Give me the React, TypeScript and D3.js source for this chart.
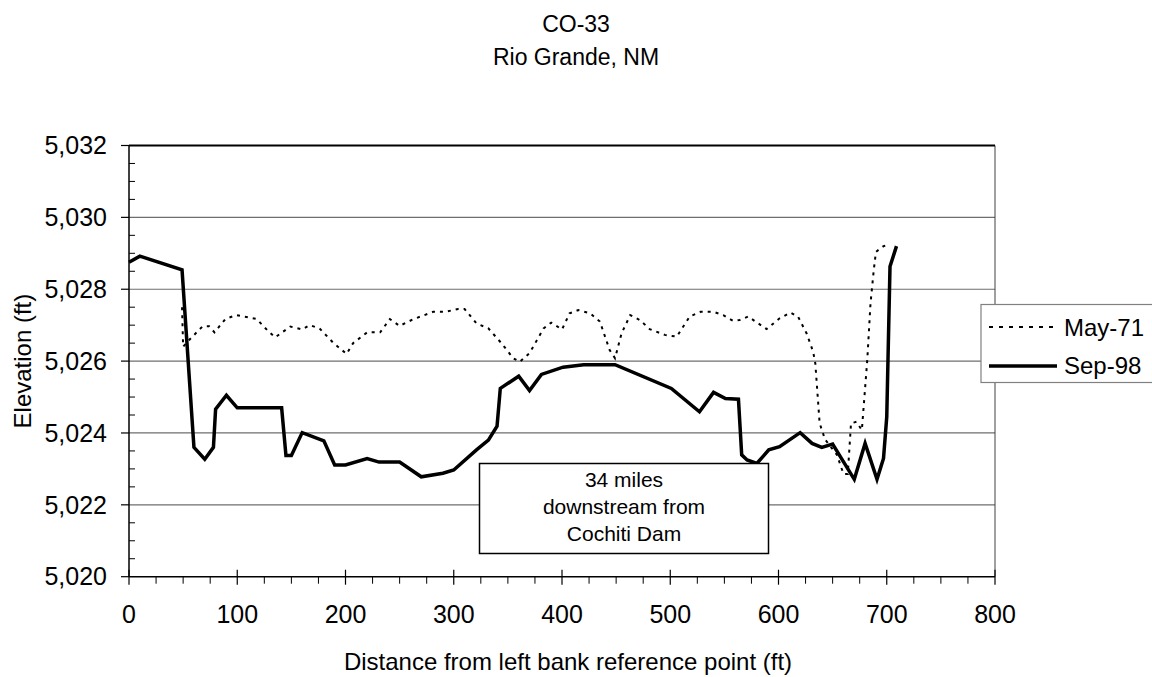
import React from "react";
import * as d3 from "d3";

const titleLines = ["CO-33", "Rio Grande, NM"];
const xTicks = [0, 100, 200, 300, 400, 500, 600, 700, 800];
const yTicks = [5020, 5022, 5024, 5026, 5028, 5030, 5032];
const xLabel = "Distance from left bank reference point (ft)";
const yLabel = "Elevation (ft)";
const noteLines = ["34 miles", "downstream from", "Cochiti Dam"];

const may71X = [49, 50, 56, 68, 74, 79, 89, 99, 118, 129, 135, 149, 160, 167, 176, 189, 201, 207, 220, 232, 241, 250, 263, 281, 292, 304, 310, 321, 332, 344, 355, 361, 370, 383, 390, 400, 407, 415, 426, 435, 444, 449, 455, 463, 472, 481, 495, 506, 518, 528, 540, 549, 558, 564, 572, 589, 601, 611, 618, 626, 632, 634, 638, 643, 654, 660, 664, 667, 672, 677, 682, 685, 688, 690, 697, 701];
const may71Y = [5027.5, 5026.4, 5026.6, 5026.97, 5026.97, 5026.8, 5027.17, 5027.28, 5027.17, 5026.82, 5026.66, 5026.96, 5026.88, 5027.0, 5026.91, 5026.5, 5026.2, 5026.5, 5026.8, 5026.8, 5027.17, 5026.98, 5027.17, 5027.37, 5027.37, 5027.45, 5027.45, 5027.05, 5026.91, 5026.5, 5026.08, 5025.98, 5026.22, 5026.91, 5027.07, 5026.88, 5027.33, 5027.42, 5027.33, 5027.1, 5026.31, 5026.08, 5026.77, 5027.28, 5027.14, 5026.89, 5026.73, 5026.68, 5027.24, 5027.37, 5027.37, 5027.28, 5027.12, 5027.14, 5027.24, 5026.89, 5027.19, 5027.35, 5027.24, 5026.77, 5026.26, 5025.94, 5024.27, 5023.82, 5023.39, 5022.86, 5022.86, 5024.27, 5024.31, 5024.08, 5026.03, 5027.61, 5028.53, 5029.04, 5029.2, 5029.23];

const sep98X = [0, 10, 49, 60, 70, 78, 80, 90, 100, 141, 145, 150, 160, 180, 190, 200, 220, 231, 250, 270, 290, 300, 321, 332, 340, 343, 360, 370, 381, 401, 420, 449, 501, 527, 540, 551, 563, 566, 571, 580, 591, 601, 620, 631, 640, 650, 670, 680, 691, 697, 700, 703, 709];
const sep98Y = [5028.75, 5028.92, 5028.54, 5023.6, 5023.27, 5023.6, 5024.66, 5025.05, 5024.7, 5024.7, 5023.37, 5023.37, 5024.01, 5023.78, 5023.11, 5023.11, 5023.29, 5023.19, 5023.19, 5022.78, 5022.88, 5022.97, 5023.53, 5023.8, 5024.19, 5025.24, 5025.58, 5025.18, 5025.63, 5025.83, 5025.9, 5025.9, 5025.24, 5024.59, 5025.13, 5024.96, 5024.94, 5023.39, 5023.25, 5023.15, 5023.53, 5023.62, 5024.01, 5023.71, 5023.6, 5023.69, 5022.71, 5023.71, 5022.71, 5023.29, 5024.45, 5028.63, 5029.2];

const seriesNames = ["May-71", "Sep-98"];

const FONT = "'Liberation Sans', Arial, sans-serif";

export default function App() {
  const W = 1152, H = 677;
  const L = 129, R = 995, T = 145.5, B = 576.7;
  const x = d3.scaleLinear().domain([0, 800]).range([L, R]);
  const y = d3.scaleLinear().domain([5020, 5032]).range([B, T]);
  const fmt = d3.format(",");

  const line = d3.line<[number, number]>().x(d => x(d[0])).y(d => y(d[1]));
  const may = may71X.map((v, i) => [v, may71Y[i]] as [number, number]);
  const sep = sep98X.map((v, i) => [v, sep98Y[i]] as [number, number]);

  const xMinor = d3.range(0, 801, 25).filter(v => v % 100 !== 0);
  const yMinor = d3.range(5020, 5032.01, 0.5).filter(v => Math.abs(v % 2) > 0.01);

  return (
    <svg width={W} height={H} style={{ position: "absolute", left: 0, top: 0, background: "#fff" }} fontFamily={FONT}>
      <rect x={0} y={0} width={W} height={H} fill="#fff" />
      {titleLines.map((t, i) => (
        <text key={t} x={576} y={32 + i * 33} textAnchor="middle" fontSize={23} fill="#000">{t}</text>
      ))}
      {yTicks.filter(v => v !== 5020 && v !== 5032).map(v => (
        <line key={v} x1={L} x2={R} y1={y(v)} y2={y(v)} stroke="#6e6e6e" strokeWidth={1.2} />
      ))}
      <line x1={R} x2={R} y1={T} y2={B} stroke="#404040" strokeWidth={1} />
      <line x1={L} x2={R} y1={T} y2={T} stroke="#000" strokeWidth={2} />
      {yTicks.map(v => (
        <line key={"yt" + v} x1={L - 8} x2={L} y1={y(v)} y2={y(v)} stroke="#000" strokeWidth={1.2} />
      ))}
      {yMinor.map(v => (
        <line key={"ym" + v} x1={L} x2={L + 6} y1={y(v)} y2={y(v)} stroke="#000" strokeWidth={1} />
      ))}
      {yTicks.map(v => (
        <text key={"yl" + v} x={107} y={y(v)} dy="0.35em" textAnchor="end" fontSize={25} fill="#000">{fmt(v)}</text>
      ))}
      {xTicks.map(v => (
        <line key={"xt" + v} x1={x(v)} x2={x(v)} y1={B - 7} y2={B + 8} stroke="#000" strokeWidth={1.2} />
      ))}
      {xMinor.map(v => (
        <line key={"xm" + v} x1={x(v)} x2={x(v)} y1={B} y2={B + 7} stroke="#000" strokeWidth={1} />
      ))}
      {xTicks.map(v => (
        <text key={"xl" + v} x={x(v)} y={623} textAnchor="middle" fontSize={25} fill="#000">{v}</text>
      ))}
      <line x1={L} x2={L} y1={T} y2={B} stroke="#000" strokeWidth={1.5} />
      <line x1={L} x2={R} y1={B} y2={B} stroke="#000" strokeWidth={1.5} />
      <path d={line(may) || ""} fill="none" stroke="#000" strokeWidth={2} strokeDasharray="3,5" />
      <path d={line(sep) || ""} fill="none" stroke="#000" strokeWidth={3.5} strokeLinejoin="miter" />
      <rect x={479.5} y={463.5} width={289} height={90} fill="#fff" stroke="#000" strokeWidth={1.5} />
      {noteLines.map((t, i) => (
        <text key={t} x={624} y={487 + i * 27} textAnchor="middle" fontSize={21} fill="#000">{t}</text>
      ))}
      <text x={568} y={670} textAnchor="middle" fontSize={24} fill="#000">{xLabel}</text>
      <text transform={`translate(31,${(T + B) / 2}) rotate(-90)`} textAnchor="middle" fontSize={24} fill="#000">{yLabel}</text>
      <rect x={981} y={304.5} width={180} height={78} fill="#fff" stroke="#808080" strokeWidth={1.2} />
      <line x1={989} x2={1057} y1={327} y2={327} stroke="#000" strokeWidth={2} strokeDasharray="4,6" />
      <text x={1064} y={335.5} fontSize={24} fill="#000">{seriesNames[0]}</text>
      <line x1={989} x2={1057} y1={366} y2={366} stroke="#000" strokeWidth={3.5} />
      <text x={1064} y={374} fontSize={24} fill="#000">{seriesNames[1]}</text>
    </svg>
  );
}
